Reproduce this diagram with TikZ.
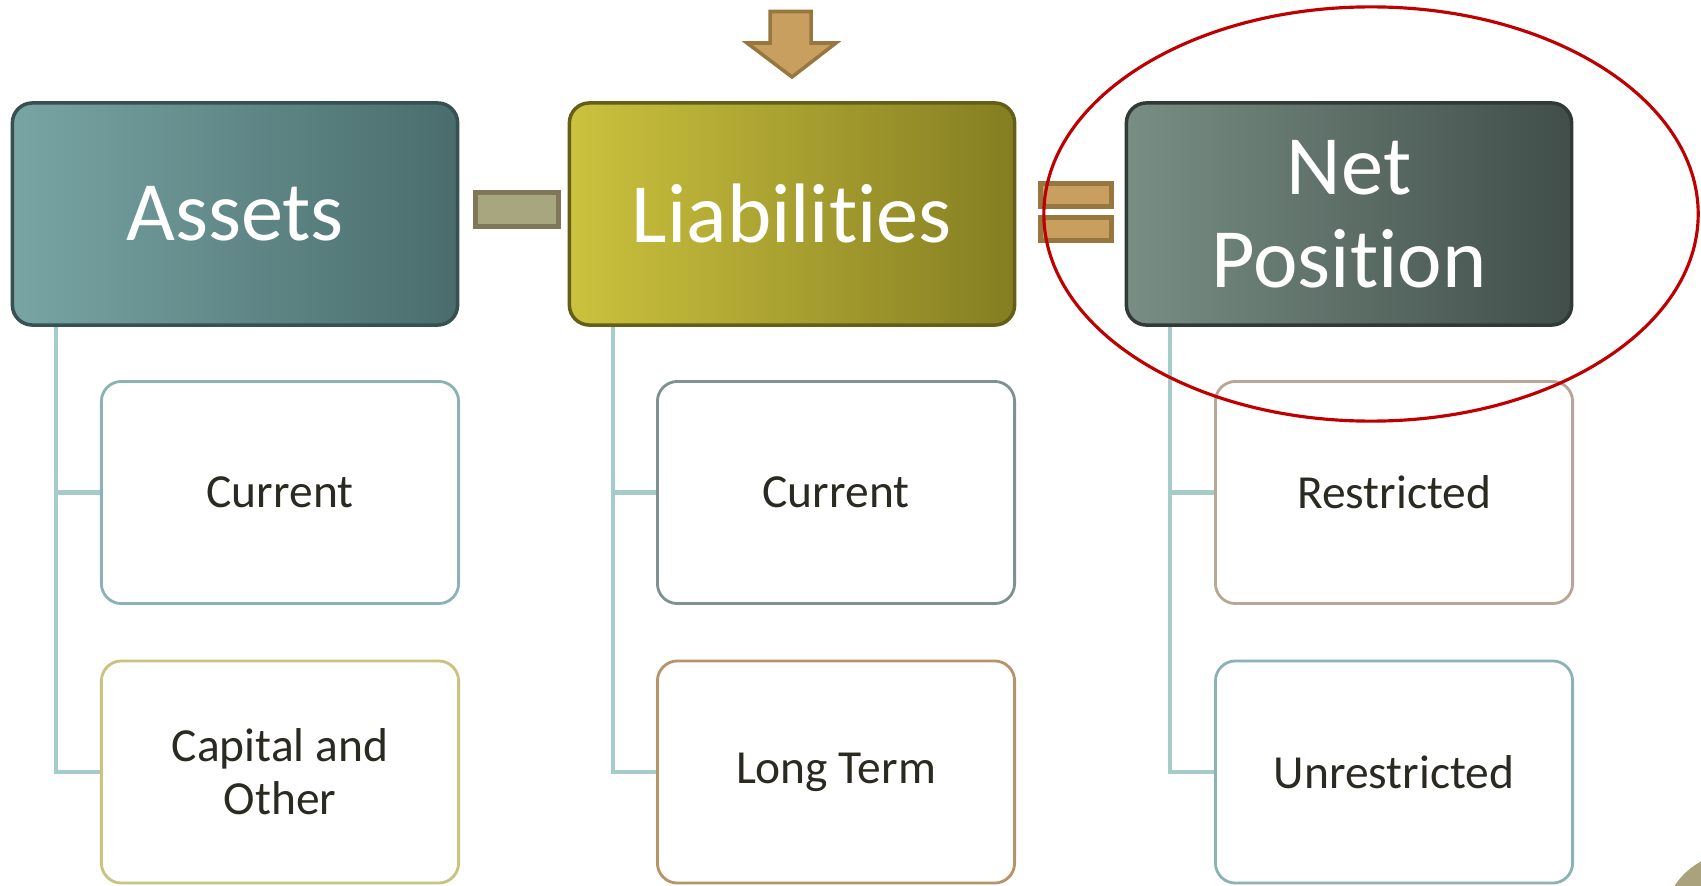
\documentclass[tikz,border=0pt]{standalone}
\usepackage{fontspec}
\setmainfont{Carlito}[Ligatures={NoCommon,NoContextual,NoRare}]
\definecolor{branchc}{HTML}{A6CBCB}
\definecolor{textc}{HTML}{2B2A22}
\definecolor{opfill}{HTML}{C89F5F}
\definecolor{opdraw}{HTML}{98763F}
\definecolor{minusfill}{HTML}{A8A67F}
\definecolor{minusdraw}{HTML}{7F7757}
\definecolor{assetsl}{HTML}{78A5A4}
\definecolor{assetsr}{HTML}{4A6C6C}
\definecolor{liabl}{HTML}{CBC23E}
\definecolor{liabr}{HTML}{857E22}
\definecolor{netl}{HTML}{788E84}
\definecolor{netr}{HTML}{414E4A}
\definecolor{cornerc}{HTML}{A9A27D}
\definecolor{tealedge}{HTML}{8DB2B3}
\definecolor{oliveedge}{HTML}{C9C37E}
\definecolor{greyedge}{HTML}{7F9191}
\definecolor{brownedge}{HTML}{B8936A}
\definecolor{sandedge}{HTML}{B9A796}

\begin{document}
\begin{tikzpicture}[x=0.01cm, y=-0.01cm,
    headnode/.style n args={2}{rectangle, rounded corners=0.2cm, left color=#1, right color=#2, draw=#2!75!black, line width=1pt, minimum width=4.45cm, minimum height=2.22cm, inner sep=0pt, text=white, align=center, font=\fontsize{24}{26.5}\selectfont},
    childnode/.style={rectangle, rounded corners=0.2cm, draw=#1, fill=white, line width=0.8pt, minimum width=3.57cm, minimum height=2.22cm, inner sep=0pt, text=textc, align=center, font=\fontsize{13.5}{15}\selectfont},
    branch/.style={draw=branchc, line width=1.4pt},
    barnode/.style={rectangle, fill=opfill, draw=opdraw, line width=1.4pt, minimum width=0.71cm, minimum height=0.23cm, inner sep=0pt}
    ]
    \useasboundingbox (0,0) rectangle (1701,885);

    \coordinate (a0) at (56,326);
    \coordinate (l0) at (613,326);
    \coordinate (n0) at (1170,326);

    \node [childnode=tealedge] (a1) at (280,492.5) {Current};
    \node [childnode=oliveedge] (a2) at (280,772) {Capital and\\Other};
    \node [childnode=greyedge] (l1) at (836,492.5) {Current};
    \node [childnode=brownedge] (l2) at (836,772) {Long Term};
    \node [childnode=sandedge] (n1) at (1394,492.5) {Restricted};
    \node [childnode=tealedge] (n2) at (1394,772) {Unrestricted};

    \draw [branch] (a0) |- (a1.west);
    \draw [branch] (a0) |- (a2.west);
    \draw [branch] (l0) |- (l1.west);
    \draw [branch] (l0) |- (l2.west);
    \draw [branch] (n0) |- (n1.west);
    \draw [branch] (n0) |- (n2.west);

    \node [headnode={assetsl}{assetsr}] (assets) at (235,214) {Assets};
    \node [headnode={liabl}{liabr}] (liab) at (792,214) {Liabilities};
    \node [headnode={netl}{netr}] (netpos) at (1349,214) {Net\\Position};

    \node [barnode, fill=minusfill, draw=minusdraw, minimum width=0.83cm, minimum height=0.34cm] (minus) at (517,209.5) {};
    \node [barnode] (eq1) at (1076,195) {};
    \node [barnode] (eq2) at (1076,229) {};

    % arrow into liabilities
    \draw [fill=opfill, draw=opdraw, line width=1pt, line join=miter]
        (770,11.5) -- (811,11.5) -- (811,43) -- (836,43) -- (792,77) -- (747,43) -- (770,43) -- cycle;

    \draw [draw=red!75!black, line width=0.9pt] (1371,214) ellipse [x radius=3.27cm, y radius=2.07cm];

    \begin{scope}
      \clip (0,0) rectangle (1701,885);
      \fill [cornerc] (1735,925) circle [radius=0.72cm];
    \end{scope}
  \end{tikzpicture}
\end{document}
